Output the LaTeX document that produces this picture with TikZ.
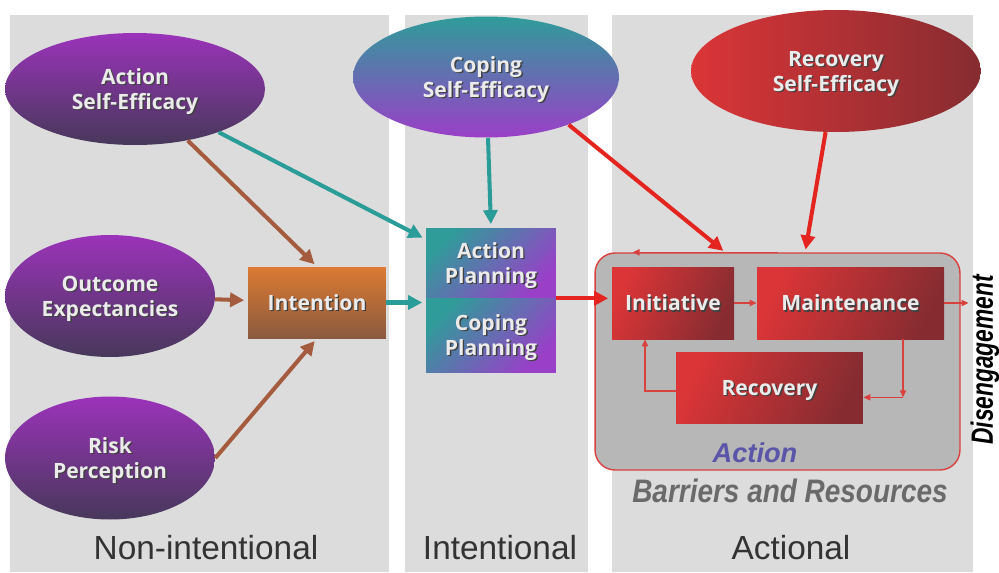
\documentclass[tikz,border=0pt]{standalone}
\usepackage{fontspec}
\usetikzlibrary{positioning, calc, shapes.geometric, arrows.meta}

\newfontfamily\boxfont{Open Sans}
\newfontfamily\labelfont{Liberation Sans}
\newfontfamily\narrowfont{Liberation Sans}[FakeStretch=0.86]
\newfontfamily\condfont{Liberation Sans}[FakeStretch=0.74]

\definecolor{panelgray}{HTML}{DCDCDC}
\definecolor{actgray}{HTML}{B7B7B7}
\definecolor{purpletop}{HTML}{9B33BA}
\definecolor{purplebot}{HTML}{47385A}
\definecolor{tealc}{HTML}{2F9C9A}
\definecolor{violetc}{HTML}{9A3FC8}
\definecolor{redtop}{HTML}{DB3537}
\definecolor{redbot}{HTML}{862C31}
\definecolor{orangetop}{HTML}{DC7A33}
\definecolor{orangebot}{HTML}{8A5A3E}
\definecolor{brownarr}{HTML}{A55B3D}
\definecolor{tealarr}{HTML}{2A9D98}
\definecolor{redarr}{HTML}{E4241F}
\definecolor{innerred}{HTML}{D9413F}
\definecolor{actblue}{HTML}{5A55A8}
\definecolor{bargray}{HTML}{6A6A6A}
\definecolor{labgray}{HTML}{333333}

% centred lines, and the same lines with a dark drop shadow under them
\newcommand{\twotext}[1]{\begin{tabular}{@{}c@{}}#1\end{tabular}}
\newcommand{\shtext}[1]{\raisebox{0pt}[\dimexpr\height+2pt\relax][\dimexpr\depth-2pt\relax]{%
  \makebox[0pt][l]{\kern0.8pt\raisebox{-0.8pt}{\color{black!75}\twotext{#1}}}\twotext{#1}}}

\tikzset{
  boxtext/.style={text=white!92!black, inner sep=0pt, font=\boxfont\bfseries\fontsize{12}{14}\selectfont},
  oval/.style={ellipse, boxtext},
  purpleoval/.style={oval, top color=purpletop, bottom color=purplebot},
  planbox/.style={rectangle, boxtext, top color=tealc, bottom color=violetc, shading angle=45, minimum width=2.6cm},
  redbox/.style={rectangle, boxtext, top color=redtop, bottom color=redbot, shading angle=65, minimum height=1.44cm},
  stagetext/.style={text=labgray, font=\labelfont\fontsize{19}{22}\selectfont},
  bigarrow/.style={line width=2.3pt, shorten >=2pt, -{Triangle[length=8pt, width=8pt]}},
  brownarrow/.style={bigarrow, brownarr},
  tealarrow/.style={bigarrow, tealarr},
  redarrow/.style={bigarrow, redarr},
  innerarrow/.style={innerred, line width=0.8pt, -{Triangle[length=4pt, width=3.5pt]}}
}

\begin{document}
\begin{tikzpicture}[x=0.02cm, y=-0.02cm]
  \useasboundingbox (0,0) rectangle (999,572);

  % three stage panels
  \fill[panelgray] (10,15) rectangle (389,572);
  \fill[panelgray] (405,15) rectangle (588,572);
  \fill[panelgray] (612,15) rectangle (973,572);

  \node (nonint) [stagetext] at (206,548) {Non-intentional};
  \node (intent) [stagetext] at (500,548) {Intentional};
  \node (actional) [stagetext] at (791,548) {Actional};

  % action area
  \node (act) [draw=innerred, fill=actgray, line width=0.8pt, rounded corners=0.4cm, minimum width=7.3cm, minimum height=4.34cm] at (777.5,361.5) {};
  \node (acttext) [text=actblue, font=\labelfont\bfseries\itshape\fontsize{15.5}{18}\selectfont] at (755,453) {Action};
  \node (barriers) [text=bargray, font=\narrowfont\bfseries\itshape\fontsize{18.5}{21}\selectfont] at (790,491) {Barriers and Resources};

  % self-efficacy and other ovals
  \node (ase) [purpleoval, minimum width=5.2cm, minimum height=2.24cm] at (135,89) {\shtext{Action\\Self-Efficacy}};
  \node (oe) [purpleoval, minimum width=4.2cm, minimum height=2.44cm] at (110,296) {\shtext{Outcome\\Expectancies}};
  \node (rp) [purpleoval, minimum width=4.2cm, minimum height=2.46cm] at (110,458) {\shtext{Risk\\Perception}};
  \node (cse) [oval, top color=tealc, bottom color=violetc, minimum width=5.32cm, minimum height=2.42cm] at (486,77) {\shtext{Coping\\Self-Efficacy}};
  \node (rse) [oval, left color=redtop, right color=redbot, minimum width=5.8cm, minimum height=2.44cm] at (836,71) {\shtext{Recovery\\Self-Efficacy}};

  % boxes
  \node (int) [rectangle, boxtext, top color=orangetop, bottom color=orangebot, minimum width=2.76cm, minimum height=1.42cm] at (317,302.5) {\shtext{Intention}};
  \node (ap) [planbox, minimum height=1.4cm] at (491,263) {\shtext{Action\\Planning}};
  \node (cp) [planbox, minimum height=1.48cm] at (491,335) {\shtext{Coping\\Planning}};
  \node (ini) [redbox, minimum width=2.44cm] at (673,303) {\shtext{Initiative}};
  \node (mnt) [redbox, minimum width=3.74cm] at (850.5,303) {\shtext{Maintenance}};
  \node (rec) [redbox, minimum width=3.74cm, minimum height=1.42cm] at (769.5,387.5) {\shtext{Recovery}};
  \node (dis) [rotate=90, inner sep=1pt, font=\condfont\bfseries\itshape\fontsize{17.5}{19}\selectfont] at (985,360) {Disengagement};

  \coordinate (cseIn) at (726,253);
  \coordinate (rseIn) at (805,253);

  % main arrows
  \draw [brownarrow] (ase) -- (int.north);
  \draw [brownarrow] (oe) -- (int);
  \draw [brownarrow] (rp.east) -- (int.south);
  \draw [tealarrow] (ase) -- (ap.160);
  \draw [tealarrow] (int.east) -- (int.east -| ap.west);
  \draw [tealarrow] (cse) -- (ap.north);
  \draw [redarrow] (cse.-30) -- (cseIn);
  \draw [redarrow] (rse) -- (rseIn);
  \draw [redarrow] (ap.south east) -- (ap.south east -| ini.west);

  % inside the action area
  \draw [innerarrow] (ini) -- (mnt);
  \draw [innerarrow] ([xshift=1.05cm]mnt.south) -- ++(0,58) coordinate (mrc);
  \draw [innerarrow] (mrc) -- (mrc -| rec.east);
  \draw [innerarrow] ([yshift=-0.07cm]rec.west) -| ([xshift=-0.56cm]ini.south);
  \draw [innerarrow] (act.north) -- ++(-145,0);
  \draw [innerarrow] (mnt.east) -- (mnt.east -| dis.north);
\end{tikzpicture}
\end{document}
